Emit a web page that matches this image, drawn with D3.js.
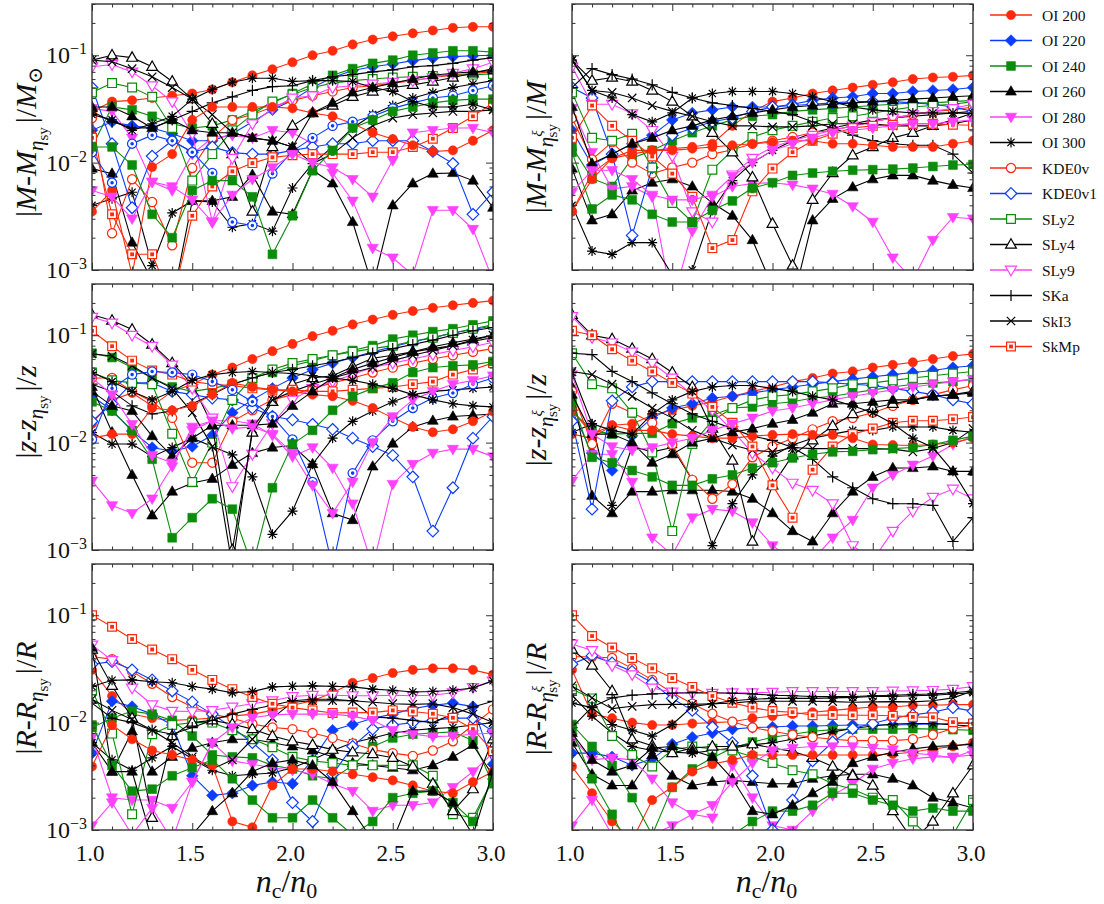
<!DOCTYPE html>
<html>
<head>
<meta charset="utf-8">
<script src="https://cdn.jsdelivr.net/npm/d3@7"></script>
<style>
  body { margin: 0; background: #fff; }
  svg { display: block; }
</style>
</head>
<body>
<svg id="chart" width="1104" height="904" style="font-family: 'Liberation Serif', 'DejaVu Serif', serif;"></svg>
<script>
// ---- data -------------------------------------------------------------
// central density in units of saturation density
const densityRatio = [1.0, 1.1, 1.2, 1.3, 1.4, 1.5, 1.6, 1.7, 1.8, 1.9, 2.0,
                      2.1, 2.2, 2.3, 2.4, 2.5, 2.6, 2.7, 2.8, 2.9, 3.0];

// named equations of state (legend order)
const eosNames = ["OI 200", "OI 220", "OI 240", "OI 260", "OI 280", "OI 300",
                  "KDE0v", "KDE0v1", "SLy2", "SLy4", "SLy9", "SKa", "SkI3", "SkMp"];

// y tick labels (powers of ten) and x tick labels
const yTickExponents = [-3, -2, -1];
const xTickValues = [1.0, 1.5, 2.0, 2.5, 3.0];

// Rows follow eosNames; rows 14-19 are the additional curves drawn without a legend entry.
// null = curve absent from that panel.
const massEta = [
  [.03,.037,.038,.04,.042,.044,.048,.056,.065,.074,.086,.1,.11,.126,.14,.15,.16,.17,.18,.184,.184],
  [.02,.024,.022,.021,.0186,.016,.016,.0186,.024,.031,.038,.05,.062,.072,.078,.083,.089,.094,.097,.099,.1],
  [.014,.033,.031,.027,.023,.021,.022,.025,.03,.036,.044,.054,.065,.075,.084,.09,.1,.105,.11,.11,.107],
  [.0088,.0079,.0018,.0008,.0005,.0044,.0044,.0048,.0077,.0035,.0033,.0085,.0064,.0028,.0007,.004,.0064,.0079,.008,.0068,.0038],
  [.032,.03,.017,.0066,.0055,.012,.017,.018,.017,.02,.019,.015,.008,.0044,.0016,.0013,.0009,.0036,.0036,.0024,.0008],
  [.004,.0046,.0053,.0011,.0034,.0044,.0043,.0025,.0027,.0023,.0058,.0098,.014,.021,.028,.034,.04,.045,.05,.054,.058],
  [.026,.0022,.007,.0043,.0017,.0089,.017,.025,.028,.033,.038,.042,.046,.05,.052,.055,.058,.062,.065,.068,.07],
  [.05,.015,.0038,.0115,.016,.0125,.014,.0124,.012,.012,.013,.014,.015,.015,.016,.016,.016,.0127,.0098,.0033,.0053],
  [.045,.055,.05,.041,.021,.0068,.012,.02,.028,.037,.043,.05,.055,.058,.06,.062,.063,.064,.065,.066,.067],
  [.09,.1,.095,.078,.057,.039,.023,.012,.0035,.014,.022,.029,.034,.041,.046,.05,.053,.057,.062,.068,.075],
  [.078,.082,.07,.052,.037,.0186,.0028,.011,.023,.032,.04,.042,.05,.052,.054,.056,.058,.062,.068,.075,.086],
  [.03,.024,.021,.021,.025,.03,.036,.041,.047,.051,.052,.058,.063,.066,.07,.073,.078,.08,.084,.09,.095],
  [.09,.087,.075,.063,.05,.039,.028,.019,.017,.016,.014,.0098,.012,.017,.022,.026,.028,.029,.03,.03,.031],
  [.017,.0033,.0014,.0014,.0005,.0032,.006,.0083,.0099,.0112,.0117,.012,.012,.012,.0125,.0125,.014,.0167,.021,.027,.036],
  [.0035,.0055,.0009,.0091,.012,.025,.033,.033,.033,.033,.032,.029,.027,.023,.019,.0166,.0145,.0127,.013,.016,.02],
  [.0125,.0065,.015,.018,.016,.0125,.008,.0028,.0026,.0079,.0128,.017,.022,.024,.027,.032,.036,.04,.042,.047,.052],
  [.014,.014,.0095,.0033,.002,.0055,.0068,.0068,.0048,.0014,.0032,.0084,.013,.021,.025,.03,.033,.036,.038,.039,.039],
  [.033,.033,.027,.021,.025,.02,.019,.019,.017,.016,.014,.029,.036,.045,.05,.055,.06,.065,.068,.07,.072],
  [.0055,.0048,.003,.0066,.006,.0045,.0028,.005,.007,.009,.012,.01,.009,.007,.0048,.0105,.019,.02,.021,.021,.019],
  [.028,.025,.02,.023,.027,.039,.048,.056,.061,.061,.057,.058,.058,.057,.05,.046,.037,.033,.033,.035,.031]
];

const massXi = [
  [.0035,.008,.011,.013,.013,.0135,.014,.015,.022,.03,.037,.04,.044,.047,.05,.053,.056,.06,.062,.063,.065],
  [.02,.0095,.012,.015,.018,.025,.029,.031,.033,.033,.033,.035,.038,.04,.041,.044,.044,.046,.047,.048,.05],
  [.014,.0071,.006,.011,.013,.016,.019,.022,.025,.027,.028,.03,.031,.032,.033,.034,.035,.036,.036,.037,.038],
  [.0088,.0029,.0033,.0055,.0065,.007,.006,.0042,.0032,.0019,.0007,.0005,.0029,.0046,.0059,.007,.0076,.0076,.0068,.0062,.0058],
  [.032,.0125,.0057,.006,.0048,.0005,.0023,.0048,.006,.0064,.0065,.0062,.0057,.0051,.0039,.0028,.0013,.0008,.0019,.0031,.003],
  [.004,.0015,.0014,.0018,.0018,.0009,.001,.0036,.0068,.01,.013,.016,.019,.021,.023,.025,.026,.027,.028,.029,.03],
  [.026,.0107,.0155,.01,.0079,.009,.01,.012,.0132,.015,.016,.0173,.019,.02,.022,.024,.026,.028,.03,.031,.033],
  [.05,.04,.012,.0021,.009,.018,.021,.024,.026,.03,.033,.034,.035,.036,.037,.037,.037,.036,.035,.033,.03],
  [.045,.017,.016,.0186,.009,.0042,.0028,.0086,.013,.0173,.02,.022,.024,.026,.027,.029,.031,.033,.034,.035,.037],
  [.09,.058,.062,.057,.047,.037,.027,.019,.0125,.0073,.0027,.0011,.0045,.008,.0117,.014,.017,.019,.022,.025,.029],
  [.078,.035,.035,.0286,.02,.0115,.0035,.0028,.0077,.011,.014,.016,.018,.02,.022,.024,.026,.028,.03,.032,.035],
  [.05,.075,.066,.06,.053,.045,.04,.036,.034,.032,.03,.028,.024,.021,.018,.016,.015,.0145,.0145,.012,.008],
  [.09,.047,.045,.04,.034,.03,.027,.024,.022,.022,.0215,.0215,.022,.023,.023,.023,.022,.022,.022,.023,.025],
  [.017,.034,.022,.016,.0114,.0079,.0048,.0016,.0019,.0054,.0088,.0125,.016,.0186,.021,.022,.0225,.023,.023,.0225,.0223],
  [.0035,.007,.011,.012,.013,.013,.0135,.014,.0145,.015,.0155,.016,.016,.015,.015,.0145,.014,.014,.014,.015,.016],
  null,
  [.0125,.0037,.005,.0045,.0033,.0028,.0028,.0036,.0044,.0058,.0065,.0076,.008,.0083,.0085,.0086,.0087,.0089,.0092,.0095,.0096],
  [.033,.0098,.012,.015,.017,.02,.022,.025,.027,.029,.031,.033,.034,.035,.036,.037,.038,.039,.04,.041,.042],
  [.0053,.0085,.0085,.007,.005,.0045,.0045,.005,.0075,.01,.013,.015,.017,.019,.02,.021,.022,.023,.023,.024,.025],
  [.09,.047,.04,.028,.024,.029,.04,.044,.046,.046,.046,.044,.041,.037,.033,.031,.03,.029,.029,.029,.0286]
];

const redshiftEta = [
  [.015,.025,.029,.022,.03,.035,.043,.05,.06,.071,.083,.098,.11,.126,.14,.155,.168,.18,.19,.2,.21],
  [.027,.02,.0128,.009,.0083,.0092,.0117,.019,.025,.032,.04,.048,.055,.062,.07,.078,.087,.095,.105,.113,.122],
  [.068,.062,.05,.04,.033,.03,.032,.035,.04,.045,.052,.058,.065,.072,.08,.092,.1,.108,.115,.125,.136],
  [.033,.0125,.005,.0021,.0035,.0042,.0046,.0062,.008,.009,.0094,.0063,.0022,.0019,.006,.0098,.014,.016,.0175,.018,.0185],
  [.0044,.0026,.0022,.003,.006,.014,.016,.016,.015,.0117,.0074,.009,.0058,.0027,.0007,.0041,.0063,.008,.0087,.0087,.0074],
  [.0124,.0097,.0097,.0074,.009,.011,.0092,.0077,.0048,.0014,.0023,.0063,.011,.0158,.0197,.024,.028,.03,.031,.032,.033],
  [.04,.04,.03,.024,.017,.0065,.0065,.0158,.02,.025,.028,.032,.036,.04,.045,.05,.055,.06,.065,.07,.075],
  [.0158,.023,.036,.036,.03,.028,.026,.025,.021,.0175,.0163,.0148,.0133,.011,.0092,.0076,.0048,.0015,.0038,.011,.0175],
  [.045,.038,.036,.035,.0121,.0043,.01,.025,.04,.048,.055,.06,.065,.07,.075,.08,.088,.095,.105,.115,.125],
  [.155,.137,.113,.082,.055,.035,.0145,.001,.0124,.024,.035,.04,.042,.051,.061,.065,.07,.075,.08,.088,.095],
  [.147,.13,.1,.079,.053,.032,.017,.0039,.0078,.015,.025,.032,.037,.043,.05,.055,.06,.066,.072,.078,.086],
  [.035,.03,.022,.0185,.0197,.023,.028,.035,.04,.045,.048,.052,.056,.062,.068,.075,.082,.09,.1,.11,.118],
  [.067,.064,.052,.04,.032,.019,.0092,.0007,.0135,.025,.03,.035,.04,.045,.05,.058,.065,.072,.08,.09,.1],
  [.11,.079,.058,.047,.043,.037,.035,.034,.032,.031,.031,.03,.03,.031,.032,.033,.035,.037,.043,.048,.055],
  [.011,.012,.012,.021,.02,.022,.028,.036,.033,.031,.03,.028,.027,.0245,.021,.017,.014,.0125,.0133,.0158,.0195],
  [.0107,.032,.043,.046,.045,.043,.037,.031,.024,.0175,.0107,.0043,.0007,.0052,.0105,.0158,.021,.026,.029,.035,.04],
  [.024,.0197,.013,.007,.0013,.002,.003,.0024,.0007,.0038,.0097,.013,.02,.027,.032,.036,.045,.05,.052,.053,.057],
  [.03,.022,.0197,.0115,.0075,.011,.0145,.0145,.0145,.015,.022,.03,.04,.048,.055,.062,.07,.078,.085,.092,.1],
  [.04,.028,.0148,.0076,.0065,.013,.016,.0135,.014,.012,.008,.004,.0022,.0043,.01,.0175,.025,.03,.035,.038,.042],
  [.045,.037,.03,.025,.03,.038,.043,.045,.046,.045,.044,.042,.04,.038,.035,.032,.028,.025,.023,.022,.0215]
];

const redshiftXi = [
  [.012,.011,.0145,.015,.018,.02,.022,.024,.027,.03,.033,.037,.04,.044,.046,.05,.053,.056,.06,.064,.067],
  [.02,.008,.0055,.0116,.017,.021,.023,.026,.027,.029,.031,.033,.035,.037,.039,.041,.043,.045,.047,.05,.052],
  [.0197,.013,.012,.0122,.0122,.015,.017,.018,.021,.0215,.023,.024,.026,.027,.029,.031,.033,.035,.036,.037,.039],
  [.033,.0032,.0022,.0035,.0035,.0036,.0036,.0036,.0035,.003,.0022,.0015,.0012,.0022,.0035,.0048,.0058,.0058,.006,.0054,.0054],
  [.0044,.0078,.0078,.0043,.0013,.0009,.002,.0024,.0023,.0018,.0011,.0008,.0008,.0013,.0019,.0038,.005,.0062,.0075,.0096,.0115],
  [.0124,.0149,.0026,.0092,.0082,.009,.0045,.0011,.0027,.005,.0075,.0095,.011,.012,.013,.013,.014,.014,.014,.013,.0125],
  [.03,.0097,.023,.019,.0153,.0096,.0045,.003,.0041,.0073,.0092,.011,.0133,.0158,.017,.019,.022,.025,.028,.031,.034],
  [.0158,.0024,.0245,.033,.037,.037,.037,.037,.037,.037,.037,.037,.037,.036,.035,.034,.032,.03,.028,.025,.023],
  [.068,.035,.032,.019,.0081,.0015,.0097,.016,.021,.025,.027,.028,.03,.032,.035,.036,.038,.04,.042,.044,.046],
  [.155,.1,.092,.075,.06,.045,.033,.0135,.0068,.0012,.004,.0076,.0105,.0143,.0185,.021,.023,.025,.027,.028,.03],
  [.15,.095,.085,.07,.055,.04,.028,.02,.013,.008,.0058,.0042,.0036,.0027,.0011,.0008,.0015,.0023,.0031,.0037,.003],
  [.068,.066,.046,.037,.029,.023,.0185,.0158,.0135,.0115,.0105,.009,.007,.0048,.0038,.003,.0027,.0027,.0026,.0012,.002],
  [.046,.043,.035,.027,.021,.017,.013,.011,.0095,.0085,.0082,.009,.0088,.0088,.0088,.0088,.0087,.0082,.0088,.01,.0135],
  [.11,.1,.074,.058,.046,.036,.0286,.0215,.0153,.0092,.004,.002,.0056,.0092,.012,.0135,.0153,.016,.016,.0165,.0173],
  [.02,.012,.0145,.013,.013,.012,.0115,.011,.011,.0115,.0118,.012,.0118,.0118,.011,.0096,.0095,.0094,.0096,.01,.011],
  null,
  [.024,.0073,.0065,.0055,.0048,.004,.004,.0046,.005,.0058,.0065,.0072,.0078,.0082,.0083,.0086,.0088,.009,.0096,.0105,.0115],
  [.028,.012,.012,.01,.0065,.0078,.01,.011,.0125,.0135,.015,.0163,.019,.023,.023,.024,.025,.025,.027,.028,.029],
  [.043,.012,.0092,.0085,.009,.01,.011,.013,.015,.017,.0197,.021,.023,.025,.027,.029,.031,.033,.035,.037,.039],
  [.045,.015,.013,.012,.0185,.025,.03,.033,.034,.034,.032,.03,.027,.025,.022,.019,.015,.011,.009,.0054,.0027]
];

const radiusEta = [
  [.031,.0177,.012,.011,.0105,.0107,.011,.0115,.012,.013,.0145,.016,.019,.0235,.026,.029,.031,.032,.032,.031,.028],
  [.0052,.0158,.0141,.012,.0095,.0032,.0021,.0022,.0026,.0028,.0027,.0045,.0085,.0096,.011,.012,.0135,.0145,.0152,.0141,.0041],
  [.009,.011,.0128,.012,.0105,.0075,.005,.0048,.0047,.004,.0037,.0032,.003,.004,.006,.0072,.0078,.008,.0082,.0068,.0027],
  [.0065,.0035,.0083,.0035,.0048,.0058,.0065,.007,.007,.0065,.006,.0055,.0048,.0042,.004,.0038,.0036,.004,.0048,.0062,.0032],
  [.0073,.002,.0019,.0019,.0016,.0028,.0065,.0044,.0041,.0038,.0036,.0033,.0027,.0023,.0015,.0017,.0017,.0018,.0025,.0035,.0052],
  [.0065,.0045,.0036,.0047,.006,.0046,.0036,.0032,.0033,.0034,.0038,.0045,.0055,.0065,.0072,.008,.0085,.0088,.009,.0095,.01],
  [.041,.039,.03,.023,.0173,.014,.012,.011,.0097,.009,.0087,.008,.0072,.0064,.0056,.0052,.0049,.0055,.0067,.0095,.0133],
  [.035,.037,.031,.025,.0197,.0156,.012,.009,.0065,.0045,.0018,.0012,.0033,.006,.0087,.0095,.01,.0105,.011,.011,.0083],
  [.02,.0079,.0014,.0078,.0095,.01,.01,.0085,.007,.0059,.0048,.0044,.0042,.004,.004,.004,.004,.0032,.0014,.0013,.003],
  [.048,.022,.011,.0013,.0075,.01,.0105,.0097,.0087,.0075,.0067,.0062,.0056,.0053,.0051,.0047,.0039,.0027,.0015,.0024,.007],
  [.053,.038,.021,.0147,.0128,.0127,.013,.014,.015,.016,.0175,.018,.018,.0178,.0178,.018,.0178,.018,.019,.0213,.0245],
  [.0152,.011,.01,.0085,.0078,.009,.0105,.012,.0133,.0145,.016,.0165,.0165,.016,.0113,.011,.0105,.01,.012,.014,.0158],
  [.0165,.013,.0107,.0085,.0065,.0048,.0037,.0045,.007,.011,.0155,.016,.016,.016,.0155,.015,.0148,.015,.0138,.012,.01],
  [.1,.078,.06,.048,.039,.031,.025,.0205,.0173,.015,.0138,.013,.0123,.0124,.0124,.013,.0127,.0121,.0111,.0087,.0054],
  [.0039,.0095,.007,.0055,.005,.0045,.004,.0012,.00106,.0026,.0037,.0037,.0035,.0033,.0031,.0029,.0026,.0023,.0022,.0028,.0035],
  null,
  [.0095,.004,.0023,.0024,.0032,.0038,.0045,.003,.0019,.0013,.0013,.0019,.0013,.0009,.0012,.002,.0022,.0023,.0018,.0012,.003],
  [.05,.0035,.0035,.0008,.0008,.0009,.0015,.0022,.0035,.0042,.0045,.004,.0028,.0015,.0008,.0008,.0023,.0023,.0018,.0009,.0035],
  [.0011,.0018,.0009,.0016,.0008,.0028,.0065,.009,.0111,.0118,.012,.012,.012,.0115,.0105,.0085,.0078,.0074,.0075,.0078,.008],
  [.0217,.0248,.025,.024,.0235,.0217,.0205,.019,.0195,.0215,.0218,.022,.0218,.0215,.0205,.02,.0193,.0195,.02,.021,.0245]
];

const radiusXi = [
  [.031,.012,.011,.01,.0095,.0095,.0098,.01,.0102,.011,.0115,.012,.0125,.013,.0135,.014,.014,.0145,.0145,.0147,.0147],
  [.0052,.0052,.0048,.004,.0046,.0063,.0073,.008,.0087,.009,.0091,.0093,.0093,.0094,.0095,.0095,.0095,.0096,.0097,.0098,.0099],
  [.0096,.006,.004,.002,.0009,.0025,.0037,.0047,.0058,.0066,.0073,.0078,.0083,.0086,.0087,.0087,.0087,.0088,.0087,.0086,.0085],
  [.0065,.0033,.0026,.0026,.005,.0032,.0026,.0028,.0029,.0028,.0027,.0027,.003,.0032,.0033,.0033,.003,.0026,.002,.0018,.0016],
  [.0073,.0045,.0047,.0045,.003,.0018,.0014,.0013,.004,.002,.0011,.001,.0015,.0021,.0027,.0037,.0042,.0046,.0048,.0048,.005],
  [.018,.0115,.008,.006,.0055,.0053,.0052,.0055,.0058,.0062,.0065,.007,.0075,.0082,.0088,.0093,.0097,.0098,.0098,.0095,.0093],
  [.041,.041,.04,.032,.025,.019,.015,.0121,.0102,.009,.0083,.0077,.0073,.007,.0068,.0068,.0068,.007,.0077,.0088,.0095],
  [.035,.042,.036,.03,.0235,.0168,.013,.0091,.0065,.0032,.001,.0019,.0044,.0066,.0088,.0098,.011,.0118,.0125,.0138,.0128],
  [.0205,.0168,.0075,.005,.0039,.0056,.006,.0057,.0055,.0048,.0042,.0036,.0033,.0027,.0024,.002,.0019,.0012,.0008,.0009,.0019],
  [.048,.034,.0197,.007,.0061,.0052,.0058,.006,.006,.0063,.0058,.0054,.0047,.0039,.0032,.0026,.0015,.0008,.0012,.0022,.004],
  [.054,.047,.034,.028,.021,.0193,.0188,.0188,.019,.019,.0192,.0195,.0195,.0195,.0195,.0195,.0197,.0198,.02,.0205,.0217],
  [.009,.014,.017,.018,.0185,.0188,.019,.019,.0188,.0185,.018,.0178,.0175,.0175,.0175,.0178,.018,.0183,.0185,.019,.0197],
  [.022,.017,.0135,.0142,.0147,.0148,.0148,.015,.0152,.0158,.0158,.0158,.0158,.0157,.0155,.0156,.0157,.0156,.016,.017,.0197],
  [.1,.064,.05,.04,.032,.026,.0215,.0177,.0153,.0138,.0128,.0125,.0117,.0118,.0117,.0117,.0116,.0113,.0112,.0101,.0098],
  [.0039,.0022,.0012,.0008,.0019,.0025,.0035,.0041,.0045,.005,.005,.005,.005,.005,.005,.005,.0051,.0053,.0057,.006,.0065],
  null,
  [.0085,.003,.0014,.0006,.0009,.0009,.0009,.0009,.0009,.0012,.0015,.0015,.0017,.0022,.0022,.0019,.0017,.0015,.0016,.0015,.0015],
  [.008,.0045,.0035,.004,.0058,.006,.0055,.0048,.003,.0015,.0014,.0017,.0022,.0028,.0042,.0048,.0053,.0057,.006,.0061,.0063],
  [.0011,.0019,.0009,.0007,.0009,.0011,.0014,.0017,.0028,.0042,.0055,.0058,.006,.006,.006,.0058,.0056,.0052,.005,.0047,.0055],
  [.0152,.0138,.0096,.0085,.0075,.0096,.0141,.015,.016,.0165,.0168,.0168,.0168,.017,.0172,.0175,.0175,.0178,.018,.0185,.019]
];

// ---- styling ----------------------------------------------------------
const SERIF = "'Liberation Serif', 'DejaVu Serif', serif";
const RED = "#ff2a0c", BLUE = "#0b3cff", GREEN = "#0b8c0b", MAGENTA = "#ff40ff", BLACK = "#000";
const seriesStyle = [
  { color: RED,     shape: "circle",   filled: true },
  { color: BLUE,    shape: "diamond",  filled: true },
  { color: GREEN,   shape: "square",   filled: true },
  { color: BLACK,   shape: "triUp",    filled: true },
  { color: MAGENTA, shape: "triDown",  filled: true },
  { color: BLACK,   shape: "star",     filled: false },
  { color: RED,     shape: "circle",   filled: false },
  { color: BLUE,    shape: "diamond",  filled: false },
  { color: GREEN,   shape: "square",   filled: false },
  { color: BLACK,   shape: "triUp",    filled: false },
  { color: MAGENTA, shape: "triDown",  filled: false },
  { color: BLACK,   shape: "plus",     filled: false },
  { color: BLACK,   shape: "cross",    filled: false },
  { color: RED,     shape: "squareDot", filled: false },
  { color: RED,     shape: "circle",   filled: true },
  { color: BLUE,    shape: "bullseye", filled: false },
  { color: GREEN,   shape: "square",   filled: true },
  { color: BLACK,   shape: "triUp",    filled: true },
  { color: MAGENTA, shape: "triDown",  filled: true },
  { color: BLACK,   shape: "star",     filled: false }
];

const shapePath = {
  circle:  d3.symbol(d3.symbolCircle, 66)(),
  square:  "M-4.4,-4.4H4.4V4.4H-4.4Z",
  diamond: "M0,-5.8L5.8,0L0,5.8L-5.8,0Z",
  triUp:   "M0,-5.8L5.4,3.6L-5.4,3.6Z",
  triDown: "M0,5.8L5.6,-3.8L-5.6,-3.8Z",
  plus:    "M-5.6,0H5.6M0,-5.6V5.6",
  cross:   "M-4.2,-4.2L4.2,4.2M-4.2,4.2L4.2,-4.2",
  star:    "M-5,0H5M0,-5V5M-3.6,-3.6L3.6,3.6M-3.6,3.6L3.6,-3.6"
};

function drawMarker(g, shape, color, filled) {
  if (shape === "squareDot") {
    g.append("path").attr("d", shapePath.square).attr("fill", "#fff")
      .attr("stroke", color).attr("stroke-width", 1.2);
    g.append("path").attr("d", "M-1.9,-1.9H1.9V1.9H-1.9Z").attr("fill", color);
    return;
  }
  if (shape === "bullseye") {
    g.append("path").attr("d", shapePath.circle).attr("fill", "#fff")
      .attr("stroke", color).attr("stroke-width", 1.2);
    g.append("path").attr("d", d3.symbol(d3.symbolCircle, 10)()).attr("fill", color);
    return;
  }
  const p = g.append("path").attr("d", shapePath[shape]);
  if (shape === "plus" || shape === "cross" || shape === "star") {
    p.attr("fill", "none").attr("stroke", color).attr("stroke-width", 1.2);
  } else if (filled) {
    p.attr("fill", color).attr("stroke", color).attr("stroke-width", 0.6);
  } else {
    p.attr("fill", "#fff").attr("stroke", color).attr("stroke-width", 1.2);
  }
}

function addText(parent) {
  return parent.append("text").attr("font-family", SERIF).attr("fill", "#111");
}

// ---- layout -----------------------------------------------------------
const svg = d3.select("#chart");
const plotW = 401, plotH = 266;
const colLeft = [92, 572];
const rowTop = [4, 284, 564];

const panels = [
  { values: massEta,     col: 0, row: 0, quantity: "M", ref: "sun", xi: false, labelShift: 5 },
  { values: massXi,      col: 1, row: 0, quantity: "M", ref: "M",   xi: true,  labelShift: 10 },
  { values: redshiftEta, col: 0, row: 1, quantity: "z", ref: "z",   xi: false, labelShift: -5 },
  { values: redshiftXi,  col: 1, row: 1, quantity: "z", ref: "z",   xi: true,  labelShift: 3 },
  { values: radiusEta,   col: 0, row: 2, quantity: "R", ref: "R",   xi: false, labelShift: 1 },
  { values: radiusXi,    col: 1, row: 2, quantity: "R", ref: "R",   xi: true,  labelShift: 2 }
];

const defs = svg.append("defs");

panels.forEach((p, pi) => {
  const left = colLeft[p.col], top = rowTop[p.row];
  const x = d3.scaleLinear().domain([1, 3]).range([left, left + plotW]);
  const y = d3.scaleLog().domain([1e-3, 0.3]).range([top + plotH, top]);

  const clipId = "clip" + pi;
  defs.append("clipPath").attr("id", clipId)
    .append("rect").attr("x", left).attr("y", top).attr("width", plotW).attr("height", plotH);

  const g = svg.append("g");
  const plot = g.append("g").attr("clip-path", `url(#${clipId})`);

  const line = d3.line().x((d, i) => x(densityRatio[i])).y(d => y(d));

  p.values.forEach((vals, si) => {
    if (!vals) return;
    const st = seriesStyle[si];
    const sg = plot.append("g");
    sg.append("path").datum(vals).attr("d", line)
      .attr("fill", "none").attr("stroke", st.color).attr("stroke-width", 1.1);
    vals.forEach((v, i) => {
      const m = sg.append("g").attr("transform", `translate(${x(densityRatio[i])},${y(v)})`);
      drawMarker(m, st.shape, st.color, st.filled);
    });
  });

  // ticks (inward, all four sides)
  const majorX = xTickValues;
  const minorX = x.ticks(20).filter(v => !majorX.some(m => Math.abs(m - v) < 1e-9));
  const allY = y.ticks();
  const majorY = allY.filter(v => Math.abs(Math.log10(v) - Math.round(Math.log10(v))) < 1e-9);
  const minorY = allY.filter(v => !majorY.includes(v));

  const tickStyle = sel => {
    sel.select(".domain").remove();
    sel.selectAll(".tick line").attr("stroke", "#333").attr("stroke-width", 1);
    sel.selectAll(".tick text").remove();
  };
  const addAxis = (axis, tx, ty) => g.append("g").attr("transform", `translate(${tx},${ty})`).call(axis).call(tickStyle);
  addAxis(d3.axisBottom(x).tickValues(majorX).tickSize(-7), 0, top + plotH);
  addAxis(d3.axisBottom(x).tickValues(minorX).tickSize(-3.5), 0, top + plotH);
  addAxis(d3.axisTop(x).tickValues(majorX).tickSize(-7), 0, top);
  addAxis(d3.axisTop(x).tickValues(minorX).tickSize(-3.5), 0, top);
  addAxis(d3.axisLeft(y).tickValues(majorY).tickSize(-7), left, 0);
  addAxis(d3.axisLeft(y).tickValues(minorY).tickSize(-3.5), left, 0);
  addAxis(d3.axisRight(y).tickValues(majorY).tickSize(-7), left + plotW, 0);
  addAxis(d3.axisRight(y).tickValues(minorY).tickSize(-3.5), left + plotW, 0);

  g.append("rect").attr("x", left).attr("y", top).attr("width", plotW).attr("height", plotH)
    .attr("fill", "none").attr("stroke", "#333").attr("stroke-width", 1.4);

  // y tick labels on the left column
  if (p.col === 0) {
    yTickExponents.forEach(e => {
      const t = addText(g).attr("x", left - 5).attr("y", y(Math.pow(10, e)) + 8)
        .attr("text-anchor", "end").attr("font-size", 24);
      t.append("tspan").text("10");
      t.append("tspan").attr("dy", -9).attr("font-size", 16).text("\u2212" + Math.abs(e));
    });
  }

  // x tick labels and axis title on the bottom row
  if (p.row === 2) {
    xTickValues.forEach(v => {
      addText(g).attr("x", x(v) - 2).attr("y", top + plotH + 31)
        .attr("text-anchor", "middle").attr("font-size", 23).text(d3.format(".1f")(v));
    });
    const xt = addText(g).attr("x", left + plotW / 2 - 6).attr("y", top + plotH + 62)
      .attr("text-anchor", "middle").attr("font-size", 32);
    xt.append("tspan").attr("font-style", "italic").text("n");
    xt.append("tspan").attr("font-size", 22).attr("dy", 6).text("c");
    xt.append("tspan").attr("dy", -6).text("/");
    xt.append("tspan").attr("font-style", "italic").text("n");
    xt.append("tspan").attr("font-size", 22).attr("dy", 6).text("0");
  }

  // y axis title
  const lx = p.col === 0 ? 36 : 546;
  const yt = addText(g)
    .attr("transform", `translate(${lx},${top + plotH / 2 + p.labelShift}) rotate(-90)`)
    .attr("text-anchor", "middle").attr("font-size", 30);
  const q = p.quantity;
  yt.append("tspan").text("|");
  yt.append("tspan").attr("font-style", "italic").text(q);
  yt.append("tspan").text("-");
  yt.append("tspan").attr("font-style", "italic").text(q);
  yt.append("tspan").attr("font-style", "italic").attr("font-size", 21).attr("dy", 7).text("\u03b7");
  if (p.xi) {
    yt.append("tspan").attr("font-style", "italic").attr("font-size", 15).attr("dy", -11).text("\u03be");
    yt.append("tspan").attr("font-size", 15).attr("dy", 15).attr("dx", -7).text("sy");
    yt.append("tspan").attr("dy", -11).attr("dx", 4).text("|/");
  } else {
    yt.append("tspan").attr("font-size", 15).attr("dy", 5).text("sy");
    yt.append("tspan").attr("dy", -12).attr("dx", 4).text("|/");
  }
  if (p.ref === "sun") {
    yt.append("tspan").attr("font-style", "italic").text("M");
    yt.append("tspan").attr("font-size", 20).attr("dy", 6).text("\u2299");
  } else {
    yt.append("tspan").attr("font-style", "italic").text(p.ref);
  }
});

// ---- legend -----------------------------------------------------------
const legend = svg.append("g");
eosNames.forEach((name, i) => {
  const st = seriesStyle[i];
  const cy = 15 + i * 25.5;
  legend.append("line").attr("x1", 990).attr("x2", 1032).attr("y1", cy).attr("y2", cy)
    .attr("stroke", st.color).attr("stroke-width", 1.3);
  drawMarker(legend.append("g").attr("transform", `translate(1011,${cy})`), st.shape, st.color, st.filled);
  addText(legend).attr("x", 1042).attr("y", cy + 5.5).attr("font-size", 15.5).text(name);
});
</script>
</body>
</html>
